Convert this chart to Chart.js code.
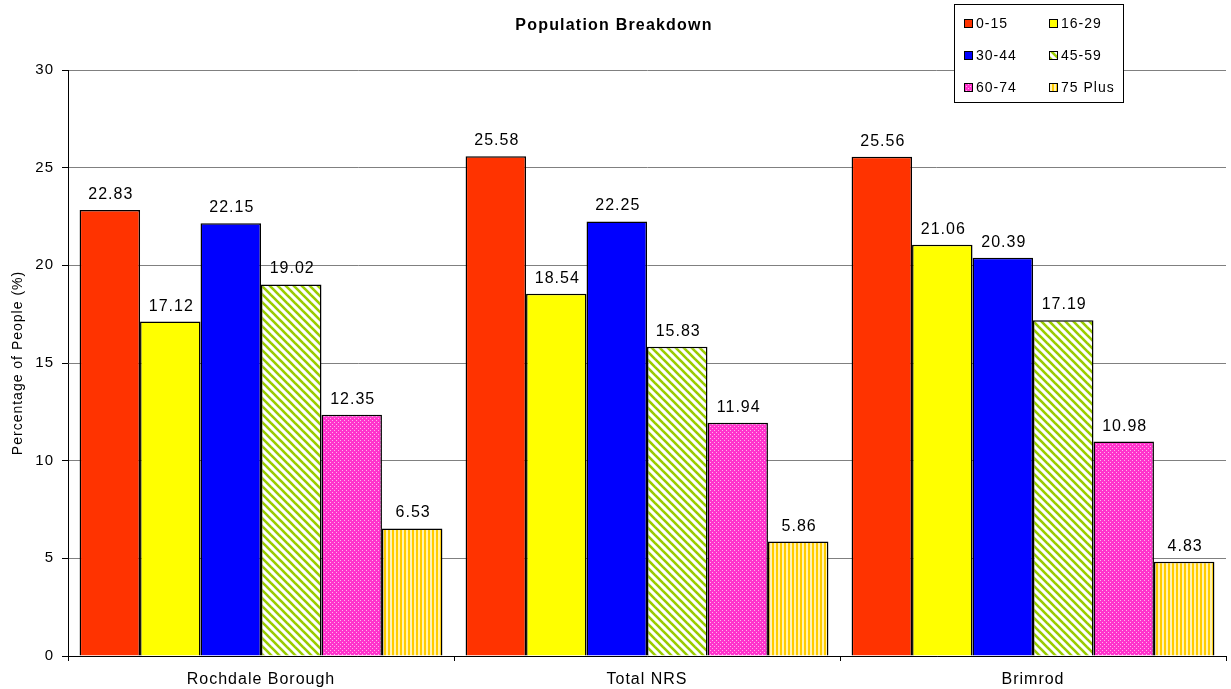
<!DOCTYPE html>
<html lang="en">
<head>
    <meta charset="UTF-8">
    <title>Population Breakdown</title>
    <script src="https://cdn.jsdelivr.net/npm/chart.js"></script>
    <style>
        html, body { margin: 0; padding: 0; background: #fff; }
        #wrap { width: 1231px; height: 689px; position: relative; }
    </style>
</head>
<body>
<div id="wrap"><canvas id="myChart" width="1231" height="689"></canvas></div>
<script>
    // data
    var areas = ['Rochdale Borough', 'Total NRS', 'Brimrod'];
    var ageGroups = ['0-15', '16-29', '30-44', '45-59', '60-74', '75 Plus'];
    var age0015 = [22.83, 25.58, 25.56];
    var age1629 = [17.12, 18.54, 21.06];
    var age3044 = [22.15, 22.25, 20.39];
    var age4559 = [19.02, 15.83, 17.19];
    var age6074 = [12.35, 11.94, 10.98];
    var age75up = [6.53, 5.86, 4.83];
    var yTicks = [0, 5, 10, 15, 20, 25, 30];

    var FONT = '"Liberation Sans", Arial, sans-serif';
    var SPACING = '1px';
    var ctx = document.getElementById('myChart').getContext('2d');

    function makePattern(w, h, draw) {
        var c = document.createElement('canvas');
        c.width = w; c.height = h;
        var g = c.getContext('2d');
        draw(g);
        return ctx.createPattern(c, 'repeat');
    }

    // green diagonal stripes
    var greenDiag = makePattern(8, 8, function (g) {
        g.fillStyle = '#ffffff';
        g.fillRect(0, 0, 8, 8);
        g.strokeStyle = '#99cc00';
        g.lineWidth = 2.6;
        for (var k = -8; k <= 16; k += 8) {
            g.beginPath();
            g.moveTo(k - 2, -2);
            g.lineTo(k + 10, 10);
            g.stroke();
        }
    });
    // pink dotted
    var pinkDots = makePattern(4, 4, function (g) {
        g.fillStyle = '#ff33cc';
        g.fillRect(0, 0, 4, 4);
        g.fillStyle = '#ffb3ec';
        g.fillRect(0, 0, 1, 1);
        g.fillRect(2, 2, 1, 1);
    });
    // yellow vertical stripes
    var goldStripes = makePattern(4, 4, function (g) {
        g.fillStyle = '#fff2b3';
        g.fillRect(0, 0, 4, 4);
        g.fillStyle = '#ffcc00';
        g.fillRect(0, 0, 2, 4);
    });

    var fills = ['#ff3300', '#ffff00', '#0000ff', greenDiag, pinkDots, goldStripes];
    var series = [age0015, age1629, age3044, age4559, age6074, age75up];

    var datasets = series.map(function (vals, i) {
        return {
            label: ageGroups[i],
            data: vals,
            backgroundColor: fills[i],
            borderColor: '#000000',
            borderWidth: 1.5,
            borderSkipped: 'bottom',
            categoryPercentage: 0.94,
            barPercentage: 1.0
        };
    });

    var extras = {
        id: 'extras',
        beforeDraw: function (chart) {
            // the old chart has wide letter spacing
            chart.ctx.letterSpacing = SPACING;
        },
        afterDatasetsDraw: function (chart) {
            var c = chart.ctx;
            c.save();
            c.letterSpacing = SPACING;
            // value labels
            c.font = '16px ' + FONT;
            c.fillStyle = '#000';
            c.textAlign = 'center';
            c.textBaseline = 'alphabetic';
            chart.data.datasets.forEach(function (ds, di) {
                chart.getDatasetMeta(di).data.forEach(function (bar, i) {
                    c.fillText(ds.data[i].toFixed(2), bar.x + 1, bar.y - 11);
                });
            });
            // title
            c.letterSpacing = '1.2px';
            c.font = 'bold 16px ' + FONT;
            c.fillText('Population Breakdown', 614, 30);
            c.letterSpacing = SPACING;
            // legend box
            var lx = 954, ly = 4, lw = 169, lh = 98;
            c.fillStyle = '#fff';
            c.fillRect(lx, ly, lw, lh);
            c.strokeStyle = '#000';
            c.lineWidth = 1;
            c.strokeRect(lx + 0.5, ly + 0.5, lw, lh);
            c.font = '14px ' + FONT;
            c.textAlign = 'left';
            c.textBaseline = 'middle';
            ageGroups.forEach(function (name, i) {
                var col = i % 2, row = Math.floor(i / 2);
                var sx = lx + 10 + col * 85, sy = ly + 19 + row * 32;
                c.fillStyle = fills[i];
                c.fillRect(sx, sy - 4, 9, 9);
                c.strokeStyle = '#000';
                c.strokeRect(sx + 0.5, sy - 3.5, 8, 8);
                c.fillStyle = '#000';
                c.fillText(name, sx + 12, sy + 1);
            });
            c.restore();
        }
    };

    var myChart = new Chart(ctx, {
        type: 'bar',
        data: { labels: areas, datasets: datasets },
        options: {
            responsive: false,
            animation: false,
            layout: { padding: { top: 70, right: 5, left: 0, bottom: 0 } },
            plugins: {
                legend: { display: false },
                title: { display: false },
                tooltip: { enabled: false }
            },
            scales: {
                x: {
                    afterFit: function (s) { s.height = 33; },
                    grid: {
                        offset: true,
                        drawOnChartArea: false,
                        color: '#000',
                        tickLength: 5
                    },
                    border: { color: '#000', width: 1 },
                    ticks: { color: '#000', font: { family: FONT, size: 16 }, padding: 9 }
                },
                y: {
                    min: 0,
                    max: 30,
                    afterFit: function (s) { s.width = 68; },
                    afterBuildTicks: function (s) {
                        s.ticks = yTicks.map(function (v) { return { value: v }; });
                    },
                    grid: {
                        color: '#808080',
                        tickColor: '#000',
                        tickLength: 6
                    },
                    border: { color: '#000', width: 1 },
                    ticks: { color: '#000', font: { family: FONT, size: 15 }, padding: 8 },
                    title: {
                        display: true,
                        text: 'Percentage of People (%)',
                        color: '#000',
                        font: { family: FONT, size: 14 },
                        padding: { top: 10, bottom: 2 }
                    }
                }
            }
        },
        plugins: [extras]
    });
</script>
</body>
</html>
